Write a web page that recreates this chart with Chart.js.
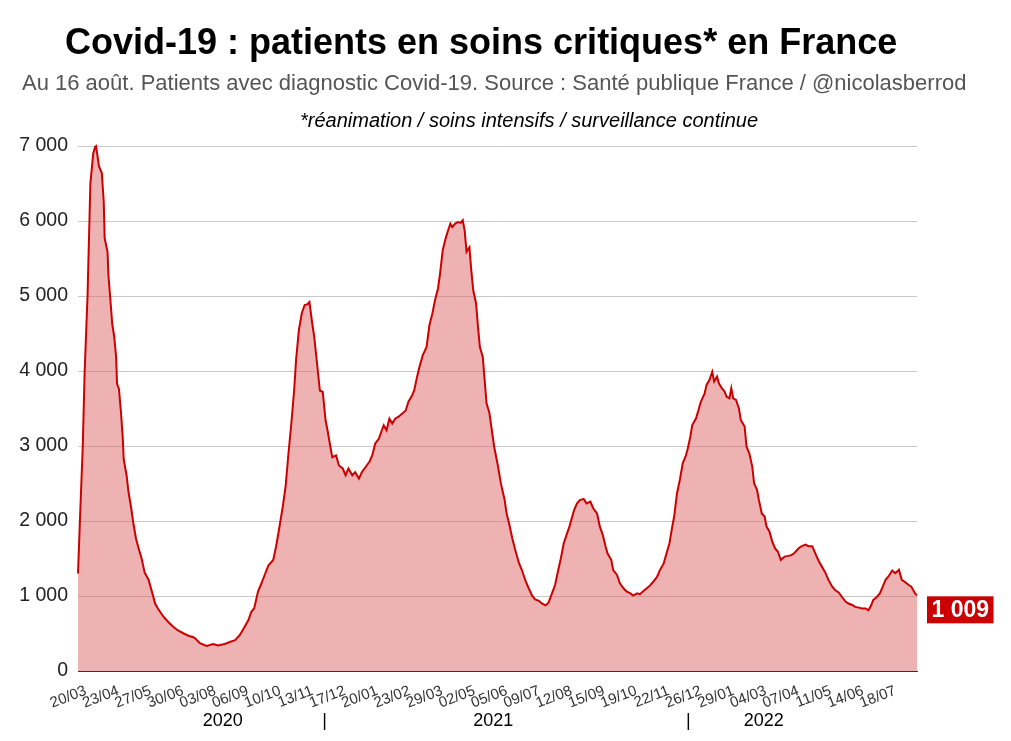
<!DOCTYPE html>
<html>
<head>
<meta charset="utf-8">
<script src="https://cdn.jsdelivr.net/npm/chart.js@4"></script>
<style>
html,body{margin:0;padding:0;background:#fff;}
#wrap{position:relative;width:1011px;height:741px;overflow:hidden;}
#c{position:absolute;left:0;top:0;}
.t{position:absolute;font-family:"Liberation Sans",Arial,sans-serif;white-space:nowrap;line-height:1;}
#title{left:65px;top:24px;font-size:36px;font-weight:bold;color:#000;}
#sub{left:22px;top:72px;font-size:22px;color:#555;}
#note{left:300px;top:110px;font-size:20px;font-style:italic;color:#000;}
</style>
</head>
<body>
<div id="wrap">
<canvas id="c" width="1011" height="741"></canvas>
<div class="t" id="title">Covid-19 : patients en soins critiques* en France</div>
<div class="t" id="sub">Au 16 août. Patients avec diagnostic Covid-19. Source : Santé publique France / @nicolasberrod</div>
<div class="t" id="note">*réanimation / soins intensifs / surveillance continue</div>
</div>
<script>
// Day offsets from 18/03/2020 (day 0) to 16/08/2022 (day 881)
const days = [
0,2,5,7,10,12,13,16,18,19,22,25,27,28,31,32,34,36,38,40,41,43,45,47,48,51,53,56,58,61,64,67,70,74,78,81,84,90,95,100,105,111,116,121,
123,128,135,142,147,154,160,165,170,175,179,182,185,189,192,196,200,205,208,211,215,218,221,224,227,229,232,235,238,241,243,246,248,
251,254,257,260,262,265,267,271,274,278,281,284,288,291,295,298,302,306,309,312,316,319,321,324,327,330,333,337,341,344,347,351,353,356,359,362,366,369,372,375,378,380,
383,386,388,391,393,396,399,402,404,406,408,411,413,415,418,420,422,425,427,429,432,435,437,441,444,448,450,453,456,459,463,466,470,473,477,480,484,487,491,494,498,501,
504,507,510,513,516,519,521,524,527,531,534,538,541,545,548,551,554,556,560,562,566,569,573,576,580,583,587,590,594,597,601,604,608,611,615,618,621,624,626,
629,632,635,638,640,643,645,649,652,654,658,660,663,666,668,671,673,676,679,681,684,686,688,691,694,696,700,702,705,708,710,713,715,718,721,723,726,729,732,735,738,742,746,749,752,
757,760,764,767,771,774,778,781,785,788,792,795,799,802,806,809,813,816,820,823,827,830,833,835,839,842,845,848,851,855,858,860,862,865,868,872,875,879,881
];
const critPatients = [
1300,2000,3000,4000,5000,6000,6500,6900,6990,7000,6730,6640,6260,5770,5590,5270,4950,4620,4460,4190,3830,3760,3470,3110,2820,2610,2390,2160,1980,1760,1620,1490,1310,1220,1040,900,830,720,650,590,540,500,470,450,
435,370,335,360,340,360,390,410,480,590,680,790,835,1060,1150,1280,1410,1480,1660,1880,2190,2460,2900,3300,3750,4150,4550,4770,4880,4890,4920,4630,4460,
4100,3740,3720,3340,3210,2990,2850,2875,2740,2700,2610,2700,2610,2650,2565,2650,2720,2790,2875,3030,3100,3210,3275,3210,3365,3300,3365,3395,3440,3470,3590,3680,3740,3920,4075,4210,4320,4610,4760,4950,5100,5280,
5610,5765,5850,5965,5920,5965,5985,5975,6010,5875,5590,5650,5340,5080,4900,4590,4320,4190,3880,3570,3440,3170,2990,2730,2505,2280,2105,1950,1770,1620,1440,1350,1200,1110,1000,955,935,900,875,910,1045,1150,
1330,1500,1700,1815,1925,2060,2150,2235,2280,2295,2235,2260,2170,2100,1925,1815,1660,1570,1480,1345,1280,1170,1100,1060,1035,1005,1035,1025,1070,1100,1145,1190,1255,1345,1435,1570,1700,1925,2060,
2370,2550,2770,2860,2950,3125,3280,3370,3500,3590,3700,3815,3880,3990,3860,3925,3835,3770,3725,3660,3635,3770,3635,3615,3500,3345,3260,2990,2900,2725,2500,2415,2280,2100,2060,1925,1860,1725,1635,1590,1480,1525,1535,1545,1570,
1640,1665,1685,1665,1665,1575,1460,1395,1305,1215,1125,1080,1045,990,925,900,880,855,845,835,835,810,880,945,990,1035,1125,1215,1260,1340,1305,1325,1350,1215,1190,1150,1125,1035,1009
];
const xTickDays = [2,36,70,104,138,172,206,240,274,308,342,376,410,444,478,512,546,580,614,648,682,716,750,784,818,852];
const xTickLabels = ['20/03','23/04','27/05','30/06','03/08','06/09','10/10','13/11','17/12','20/01','23/02','29/03','02/05','05/06','09/07','12/08','15/09','19/10','22/11','26/12','29/01','04/03','07/04','11/05','14/06','18/07'];
const yTickValues = [0,1000,2000,3000,4000,5000,6000,7000];
const yTickLabels = ['0','1 000','2 000','3 000','4 000','5 000','6 000','7 000'];
const yearLabels = ['2020','|','2021','|','2022'];
const yearLabelDays = [152,259,436,641,720];

const FONT = '"Liberation Sans", Arial, sans-serif';
function fmt(v){return String(v).replace(/\B(?=(\d{3})+(?!\d))/g,' ');}

const overlay = {
  id:'overlay',
  afterDraw(chart){
    const {ctx, scales:{x,y}} = chart;
    ctx.save();
    ctx.font = '18px ' + FONT;
    ctx.fillStyle = '#000';
    ctx.textAlign = 'center';
    ctx.textBaseline = 'middle';
    yearLabels.forEach((t,i)=>ctx.fillText(t, x.getPixelForValue(yearLabelDays[i]), 721));
    const li = days.length-1;
    const px = x.getPixelForValue(days[li]);
    const py = y.getPixelForValue(critPatients[li]);
    const txt = fmt(critPatients[li]);
    ctx.font = 'bold 23px ' + FONT;
    const w = ctx.measureText(txt).width + 9;
    ctx.fillStyle = '#cc0000';
    ctx.fillRect(px+10, py+1, w, 27);
    ctx.fillStyle = '#fff';
    ctx.textAlign = 'left';
    ctx.fillText(txt, px+14.5, py+15.5);
    ctx.restore();
  }
};

new Chart(document.getElementById('c'), {
  type:'line',
  data:{
    datasets:[{
      data: days.map((d,i)=>({x:d, y:critPatients[i]})),
      borderColor:'#cc0000',
      borderWidth:2,
      backgroundColor:'rgba(224,102,102,0.5)',
      fill:'origin',
      pointRadius:0,
      tension:0,
      clip:6
    }]
  },
  options:{
    responsive:false,
    animation:false,
    layout:{padding:{top:146,right:94,left:0,bottom:0}},
    plugins:{legend:{display:false},tooltip:{enabled:false},title:{display:false}},
    scales:{
      x:{
        type:'linear', min:0, max:881,
        afterBuildTicks: s => { s.ticks = xTickDays.map(v=>({value:v})); },
        afterFit: s => { s.height = 70; },
        ticks:{
          autoSkip:false, minRotation:21, maxRotation:21, padding:3, labelOffset:6,
          color:'#333', font:{family:FONT, size:15},
          callback: v => xTickLabels[xTickDays.indexOf(v)]
        },
        grid:{display:false},
        border:{display:true, color:'#333', width:1}
      },
      y:{
        min:0, max:7000,
        afterBuildTicks: s => { s.ticks = yTickValues.map(v=>({value:v})); },
        afterFit: s => { s.width = 78; },
        ticks:{
          padding:10, color:'#222', font:{family:FONT, size:19.5},
          callback: v => yTickLabels[yTickValues.indexOf(v)]
        },
        grid:{color:'#c8c8c8', drawTicks:false},
        border:{display:false}
      }
    }
  },
  plugins:[overlay]
});
</script>
</body>
</html>
